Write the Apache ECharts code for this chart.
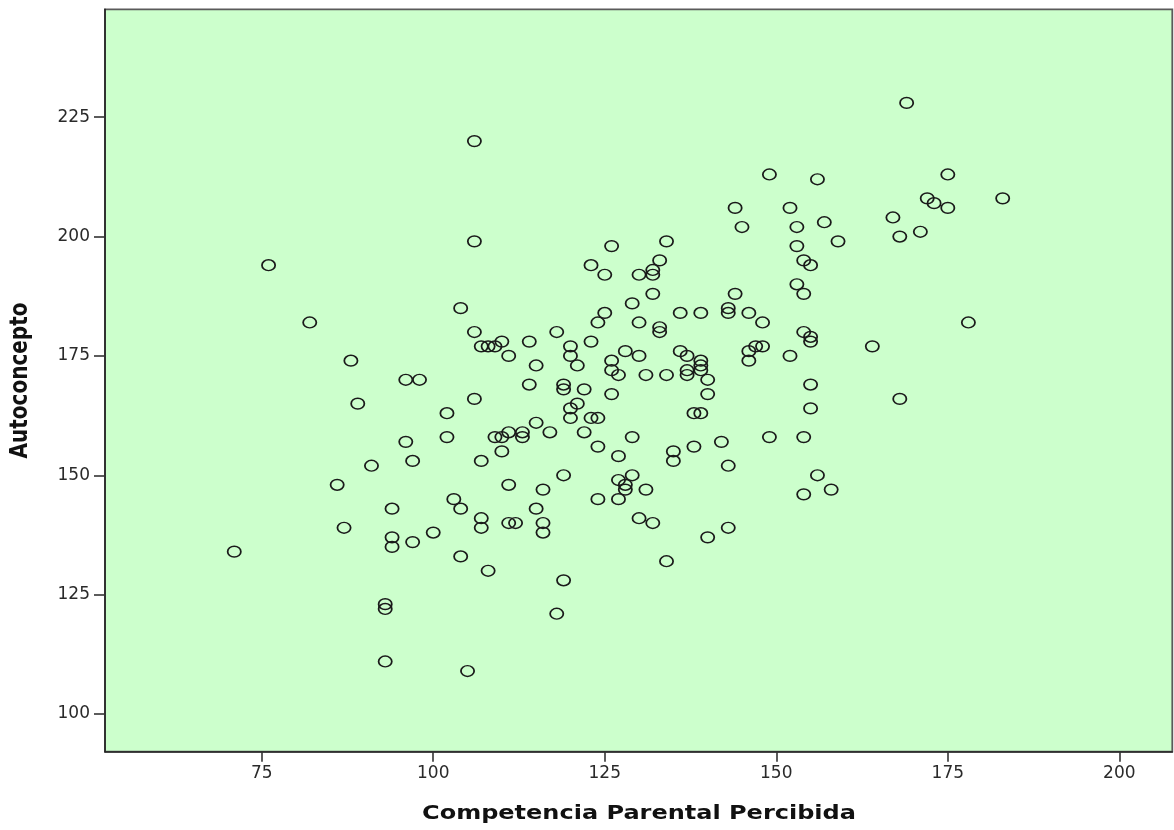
<!DOCTYPE html>
<html>
<head>
<meta charset="utf-8">
<script src="https://cdn.jsdelivr.net/npm/echarts@6.0.0/dist/echarts.min.js"></script>
<style>
  html, body { margin: 0; padding: 0; background: #ffffff; }
  #chart { width: 1174px; height: 830px; }
</style>
</head>
<body>
<div id="chart"></div>
<script>
// Competencia Parental Percibida (x) and Autoconcepto (y), one entry per case
var competencia = [
  76,82,88,89,91,86,94,87,94,94,
  71,93,93,93,106,106,149,144,145,126,
  134,133,123,125,130,132,132,132,144,129,
  104,125,124,130,133,133,136,139,143,143,
  146,148,106,107,108,109,110,111,114,115,
  118,120,120,121,123,126,126,127,128,130,
  131,134,136,137,137,137,139,139,139,140,
  140,146,146,147,148,96,98,114,119,119,
  122,126,106,102,121,120,120,123,124,138,
  139,96,102,109,110,111,113,113,115,117,
  122,129,124,127,135,135,138,142,149,143,
  97,107,110,119,111,116,127,128,128,129,
  131,124,127,103,104,115,107,107,111,112,
  116,116,130,132,143,140,97,100,104,134,
  108,119,118,105,169,156,175,172,173,175,
  183,152,153,157,167,168,171,159,153,154,
  155,153,154,178,154,155,155,164,152,155,
  168,155,154,156,158,154
];
var autoconcepto = [
  194,182,174,165,152,148,143,139,137,135,
  134,123,122,111,220,199,213,206,202,198,
  199,195,194,192,192,193,192,188,188,186,
  185,184,182,182,181,180,184,184,185,184,
  184,182,180,177,177,177,178,175,178,173,
  180,177,175,173,178,174,172,171,176,175,
  171,171,176,175,172,171,174,173,172,170,
  167,176,174,177,177,170,170,169,169,168,
  168,167,166,163,165,164,162,162,162,163,
  163,157,158,158,158,159,159,158,161,159,
  159,158,156,154,155,153,156,157,158,152,
  153,153,155,150,148,147,149,148,147,150,
  147,145,145,145,143,143,141,139,140,140,
  140,138,141,140,139,137,136,138,133,132,
  130,128,121,109,228,212,213,208,207,206,
  208,206,202,203,204,200,201,199,198,195,
  194,190,188,182,180,179,178,177,175,169,
  166,164,158,150,147,146
];
var xTicks = [75, 100, 125, 150, 175, 200];
var yTicks = [100, 125, 150, 175, 200, 225];
var xTitle = 'Competencia Parental Percibida';
var yTitle = 'Autoconcepto';

var points = competencia.map(function (v, i) { return [v, autoconcepto[i]]; });

var chart = echarts.init(document.getElementById('chart'), null, { renderer: 'canvas' });
var labelFont = { fontFamily: 'DejaVu Sans', fontSize: 17, color: '#2a2a2a' };

chart.setOption({
  animation: false,
  backgroundColor: '#ffffff',
  grid: {
    left: 105, right: 1.7, top: 9.3, bottom: 78.3,
    show: true, backgroundColor: '#CCFFCC',
    borderColor: '#5a5a5a', borderWidth: 1.8
  },
  xAxis: {
    type: 'value', min: 52.16, max: 207.72,
    splitLine: { show: false },
    axisLine: { show: true, onZero: false, lineStyle: { color: '#222222', width: 1.5 } },
    axisTick: { show: true, customValues: xTicks, length: 10, lineStyle: { color: '#333333', width: 1.6 } },
    axisLabel: Object.assign({ customValues: xTicks, margin: 13 }, labelFont)
  },
  yAxis: {
    type: 'value', min: 92.1, max: 247.6,
    splitLine: { show: false },
    axisLine: { show: true, onZero: false, lineStyle: { color: '#222222', width: 1.5 } },
    axisTick: { show: true, customValues: yTicks, length: 11, lineStyle: { color: '#333333', width: 1.6 } },
    axisLabel: Object.assign({ customValues: yTicks, margin: 15 }, labelFont)
  },
  graphic: [
    {
      type: 'text', x: 639, y: 814, scaleX: 1.2, z: 100,
      style: { text: xTitle, font: 'bold 20px "DejaVu Sans"', fill: '#111111', align: 'center', verticalAlign: 'middle' }
    },
    {
      type: 'text', x: 21, y: 380.5, rotation: Math.PI / 2, scaleY: 1.2, z: 100,
      style: { text: yTitle, font: 'bold 20px "DejaVu Sans"', fill: '#111111', align: 'center', verticalAlign: 'middle' }
    }
  ],
  series: [{
    type: 'scatter',
    data: points,
    symbol: 'path://M0,5A7,5,0,1,1,14,5A7,5,0,1,1,0,5Z',
    symbolSize: [13.2, 10.8],
    itemStyle: { color: 'rgba(0,0,0,0)', borderColor: '#1a1a1a', borderWidth: 1.6, opacity: 1 },
    emphasis: { disabled: true }
  }]
});
</script>
</body>
</html>
